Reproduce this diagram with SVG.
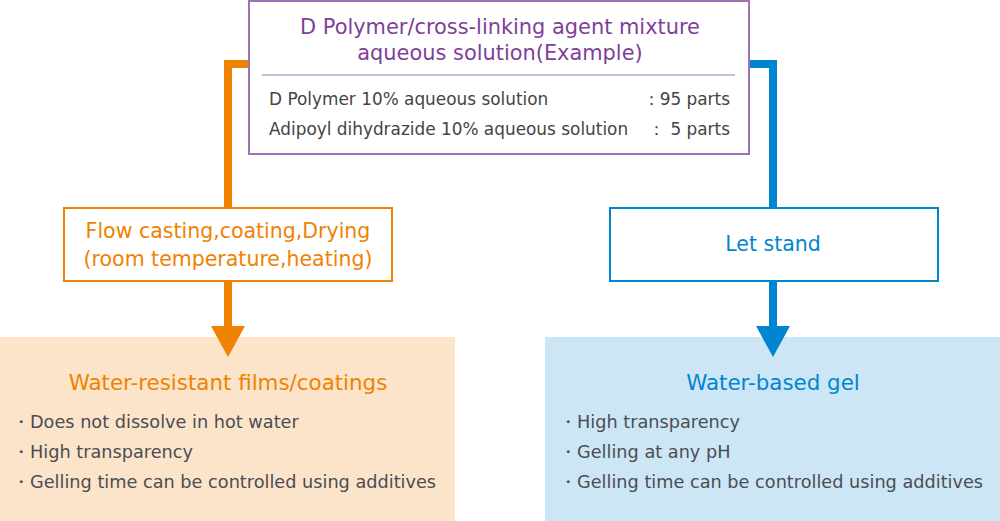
<svg xmlns="http://www.w3.org/2000/svg" width="1000" height="521" viewBox="0 0 1000 521">
<style>
.t{font-family:"DejaVu Sans","Noto Sans",sans-serif}
.tt{font-size:20.9px;fill:#7e3f98;text-anchor:middle}
.row{font-size:16.9px;fill:#444}
.ot{font-size:20.5px;fill:#ef8200;text-anchor:middle}
.bt{font-size:20.5px;fill:#0085d0;text-anchor:middle}
.h{font-size:21.4px}
.bl{font-size:17.7px;fill:#4a4d52}
.ol{stroke:#ef8200;stroke-width:8;fill:none}
.blu{stroke:#0085d0;stroke-width:8;fill:none}
</style>
<g id="panel-left"><rect x="0" y="337" width="455" height="184" fill="#fce4ca"/>
<text class="t ot h" x="228" y="390">Water-resistant films/coatings</text>
<text class="t bl" x="12" y="428">・Does not dissolve in hot water</text>
<text class="t bl" x="12" y="458">・High transparency</text>
<text class="t bl" x="12" y="488">・Gelling time can be controlled using additives</text>
</g>
<g id="panel-right"><rect x="545" y="337" width="455" height="184" fill="#cde6f5"/>
<text class="t bt h" x="773" y="390">Water-based gel</text>
<text class="t bl" x="559" y="428">・High transparency</text>
<text class="t bl" x="559" y="458">・Gelling at any pH</text>
<text class="t bl" x="559" y="488">・Gelling time can be controlled using additives</text>
</g>
<g id="connectors">
<path class="ol" d="M248 64 H228 V208"/>
<path class="ol" d="M228 281 V328"/>
<polygon points="211,326 245,326 228,357" fill="#ef8200"/>
<path class="blu" d="M749 64 H773 V208"/>
<path class="blu" d="M773 281 V328"/>
<polygon points="756,326 790,326 773,357" fill="#0085d0"/>
</g>
<g id="top"><rect x="249" y="1" width="500" height="153" fill="#fff" stroke="#a072b4" stroke-width="2"/>
<text class="t tt" x="500" y="34">D Polymer/cross-linking agent mixture</text>
<text class="t tt" x="500" y="60">aqueous solution(Example)</text>
<line x1="262" y1="75" x2="735" y2="75" stroke="#a072b4" stroke-width="1"/>
<text class="t row" x="269" y="105">D Polymer 10% aqueous solution</text>
<text class="t row" x="730" y="105" text-anchor="end">：95 parts</text>
<text class="t row" x="269" y="135">Adipoyl dihydrazide 10% aqueous solution</text>
<text class="t row" x="730" y="135" text-anchor="end">：  5 parts</text>
</g>
<g id="flow"><rect x="64" y="208" width="328" height="73" fill="#fff" stroke="#ef8200" stroke-width="2"/>
<text class="t ot" x="228" y="238">Flow casting,coating,Drying</text>
<text class="t ot" x="228" y="266">(room temperature,heating)</text>
</g>
<g id="stand"><rect x="610" y="208" width="328" height="73" fill="#fff" stroke="#0085d0" stroke-width="2"/>
<text class="t bt" x="773" y="251">Let stand</text>
</g>
</svg>
